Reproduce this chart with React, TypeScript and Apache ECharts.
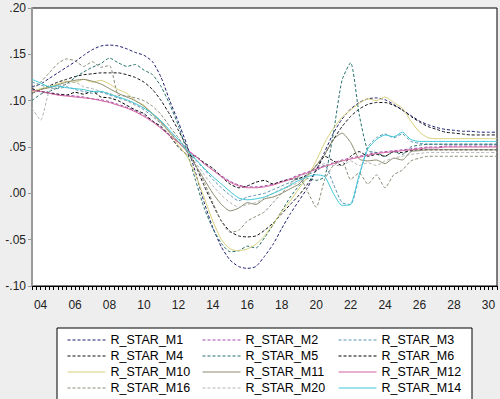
import React, { useEffect, useRef } from "react";
import * as echarts from "echarts";

// Half-yearly observation dates, 2004.0 .. 2031.0
const years: number[] = Array.from({ length: 55 }, (_, i) => 2004 + i * 0.5);

const R_STAR_M1 = [
  0.115, 0.118, 0.124, 0.13, 0.136, 0.142, 0.149, 0.155, 0.159, 0.16,
  0.159, 0.156, 0.152, 0.149, 0.142, 0.125, 0.1, 0.077, 0.052, 0.022,
  -0.01, -0.037, -0.058, -0.072, -0.079, -0.081, -0.079, -0.068, -0.055, -0.038,
  -0.022, -0.008, 0.006, 0.025, 0.045, 0.065, 0.08, 0.091, 0.098, 0.102,
  0.103, 0.101, 0.096, 0.09, 0.084, 0.078, 0.074, 0.071, 0.069, 0.068,
  0.067, 0.067, 0.066, 0.066, 0.066,
];
const R_STAR_M2 = [
  0.112, 0.11, 0.109, 0.107, 0.106, 0.105, 0.104, 0.102, 0.101, 0.099,
  0.096, 0.093, 0.089, 0.084, 0.078, 0.071, 0.063, 0.055, 0.047, 0.04,
  0.032, 0.025, 0.019, 0.013, 0.009, 0.007, 0.007, 0.008, 0.01, 0.013,
  0.016, 0.02, 0.023, 0.027, 0.03, 0.033, 0.036, 0.038, 0.04, 0.042,
  0.044, 0.045, 0.046, 0.047, 0.048, 0.049, 0.05, 0.05, 0.051, 0.051,
  0.051, 0.051, 0.051, 0.051, 0.051,
];
const R_STAR_M3 = [
  0.12, 0.117, 0.114, 0.113, 0.115, 0.112, 0.11, 0.108, 0.109, 0.106,
  0.103, 0.1, 0.096, 0.09, 0.083, 0.075, 0.066, 0.056, 0.046, 0.036,
  0.026, 0.015, 0.006, -0.002, -0.008, -0.004, -0.002, 0.0, 0.004, 0.008,
  0.012, 0.016, 0.02, 0.024, 0.03, 0.01, -0.01, -0.012, 0.018, 0.05,
  0.06, 0.064, 0.06, 0.064, 0.056, 0.054, 0.053, 0.053, 0.053, 0.053,
  0.053, 0.053, 0.053, 0.053, 0.053,
];
const R_STAR_M4 = [
  0.108, 0.112, 0.116, 0.12, 0.123, 0.126, 0.128, 0.129, 0.13, 0.13,
  0.13, 0.128, 0.125, 0.12, 0.112, 0.1, 0.085, 0.068, 0.05, 0.03,
  0.008, -0.012, -0.03, -0.041, -0.046, -0.047, -0.046, -0.04, -0.032, -0.022,
  -0.012, -0.002, 0.01, 0.025, 0.042, 0.058, 0.072, 0.083, 0.091, 0.096,
  0.098, 0.098, 0.095, 0.09, 0.083, 0.077, 0.072, 0.069, 0.066, 0.065,
  0.064, 0.063, 0.063, 0.063, 0.063,
];
const R_STAR_M5 = [
  0.1, 0.107, 0.11, 0.114, 0.118, 0.125, 0.131, 0.136, 0.14, 0.146,
  0.141, 0.137, 0.139, 0.133, 0.128, 0.115, 0.096, 0.073, 0.045, 0.014,
  -0.016, -0.038, -0.054, -0.063, -0.062, -0.057, -0.059, -0.048, -0.034, -0.019,
  -0.004, 0.008, 0.016, 0.014, 0.018, 0.065, 0.122, 0.141, 0.085, 0.046,
  0.044, 0.04, 0.045, 0.042, 0.05, 0.052, 0.053, 0.053, 0.053, 0.053,
  0.053, 0.053, 0.053, 0.053, 0.053,
];
const R_STAR_M6 = [
  0.113, 0.11, 0.108, 0.107, 0.106, 0.109, 0.107, 0.11, 0.104, 0.103,
  0.1, 0.095, 0.09, 0.086, 0.078, 0.072, 0.062, 0.05, 0.042, 0.04,
  0.033, 0.027, 0.018, 0.01, 0.006, 0.008, 0.012, 0.014, 0.01, 0.013,
  0.015, 0.016, 0.02, 0.03, 0.04, 0.035, 0.03, 0.04, 0.045, 0.04,
  0.042, 0.04, 0.045, 0.044, 0.046, 0.047, 0.047, 0.047, 0.047, 0.047,
  0.047, 0.047, 0.047, 0.047, 0.047,
];
const R_STAR_M10 = [
  0.11, 0.113, 0.115, 0.118, 0.121, 0.12, 0.123, 0.12, 0.122, 0.118,
  0.112, 0.108, 0.1, 0.095, 0.085, 0.076, 0.065, 0.052, 0.04, 0.02,
  -0.005, -0.03, -0.05, -0.06, -0.062, -0.06, -0.055, -0.046, -0.033, -0.02,
  -0.008, 0.005, 0.018, 0.035, 0.055, 0.07, 0.082, 0.09, 0.097, 0.102,
  0.1, 0.104, 0.098, 0.092, 0.078, 0.066, 0.06, 0.059, 0.059, 0.059,
  0.059, 0.059, 0.059, 0.059, 0.059,
];
const R_STAR_M11 = [
  0.108, 0.112, 0.114, 0.117, 0.12, 0.122, 0.123, 0.121, 0.118, 0.113,
  0.108, 0.104, 0.1, 0.094, 0.086, 0.077, 0.066, 0.055, 0.045, 0.03,
  0.015, 0.0, -0.012, -0.019, -0.016, -0.01, -0.012, -0.006, -0.004, 0.0,
  0.005, 0.01, 0.02, 0.03, 0.042, 0.058, 0.065, 0.055, 0.037, 0.035,
  0.036, 0.032, 0.038, 0.036, 0.045, 0.046, 0.047, 0.047, 0.047, 0.047,
  0.047, 0.047, 0.047, 0.047, 0.047,
];
const R_STAR_M12 = [
  0.111, 0.11, 0.108, 0.106, 0.105, 0.104, 0.103, 0.102, 0.1, 0.098,
  0.095, 0.092, 0.088, 0.083, 0.077, 0.07, 0.062, 0.055, 0.047, 0.04,
  0.032, 0.025, 0.018, 0.012, 0.008, 0.006, 0.006, 0.007, 0.009, 0.012,
  0.015, 0.019, 0.022, 0.026, 0.029, 0.032, 0.035, 0.037, 0.039, 0.041,
  0.043, 0.044, 0.045, 0.046, 0.047, 0.048, 0.049, 0.049, 0.05, 0.05,
  0.05, 0.05, 0.05, 0.05, 0.05,
];
const R_STAR_M16 = [
  0.112, 0.12, 0.13, 0.14, 0.145, 0.143, 0.137, 0.142, 0.136, 0.138,
  0.106, 0.105, 0.103, 0.1, 0.094, 0.085, 0.072, 0.06, 0.046, 0.03,
  0.012, -0.01, -0.03, -0.042, -0.04, -0.03, -0.025, -0.02, -0.01, 0.0,
  0.01, 0.018, 0.002, -0.015, 0.015, 0.03, 0.035, 0.015, 0.022, 0.01,
  0.02, 0.006, 0.02, 0.025, 0.035, 0.038, 0.04, 0.04, 0.04, 0.04,
  0.04, 0.04, 0.04, 0.04, 0.04,
];
const R_STAR_M20 = [
  0.092, 0.079, 0.11, 0.115, 0.118, 0.12, 0.115, 0.113, 0.11, 0.108,
  0.104, 0.1, 0.095, 0.092, 0.085, 0.076, 0.066, 0.056, 0.046, 0.033,
  0.02, 0.008, -0.002, -0.01, -0.015, -0.012, -0.01, -0.005, 0.0, 0.005,
  0.008, 0.012, 0.02, 0.028, 0.032, 0.03, 0.03, 0.035, 0.03, 0.033,
  0.03, 0.035, 0.038, 0.04, 0.042, 0.043, 0.044, 0.044, 0.044, 0.044,
  0.044, 0.044, 0.044, 0.044, 0.044,
];
const R_STAR_M14 = [
  0.123, 0.119, 0.115, 0.116, 0.114, 0.113, 0.112, 0.11, 0.11, 0.107,
  0.104, 0.101, 0.097, 0.092, 0.086, 0.078, 0.068, 0.058, 0.047, 0.037,
  0.027, 0.018, 0.01, 0.002, -0.005, -0.007, -0.006, -0.004, 0.0, 0.004,
  0.009, 0.014, 0.018, 0.02, 0.018, 0.0, -0.013, -0.012, 0.02, 0.048,
  0.058, 0.063, 0.061, 0.066, 0.058, 0.056, 0.056, 0.056, 0.056, 0.056,
  0.056, 0.056, 0.056, 0.056, 0.056,
];

const seriesList = [
  { name: "R_STAR_M1", values: R_STAR_M1 },
  { name: "R_STAR_M2", values: R_STAR_M2 },
  { name: "R_STAR_M3", values: R_STAR_M3 },
  { name: "R_STAR_M4", values: R_STAR_M4 },
  { name: "R_STAR_M5", values: R_STAR_M5 },
  { name: "R_STAR_M6", values: R_STAR_M6 },
  { name: "R_STAR_M10", values: R_STAR_M10 },
  { name: "R_STAR_M11", values: R_STAR_M11 },
  { name: "R_STAR_M12", values: R_STAR_M12 },
  { name: "R_STAR_M16", values: R_STAR_M16 },
  { name: "R_STAR_M20", values: R_STAR_M20 },
  { name: "R_STAR_M14", values: R_STAR_M14 },
];

// line look per series: colour and whether it is drawn dotted
const lineLook: Record<string, { color: string; dotted: boolean }> = {
  R_STAR_M1: { color: "#1c1c70", dotted: true },
  R_STAR_M2: { color: "#a048b0", dotted: true },
  R_STAR_M3: { color: "#5a94b4", dotted: true },
  R_STAR_M4: { color: "#101018", dotted: true },
  R_STAR_M5: { color: "#25706a", dotted: true },
  R_STAR_M6: { color: "#000000", dotted: true },
  R_STAR_M10: { color: "#d8d07a", dotted: false },
  R_STAR_M11: { color: "#8c8a6e", dotted: false },
  R_STAR_M12: { color: "#d2609e", dotted: false },
  R_STAR_M16: { color: "#8a8a78", dotted: true },
  R_STAR_M20: { color: "#b4b4b4", dotted: true },
  R_STAR_M14: { color: "#3cc8d8", dotted: false },
};

const legendColumns = [
  ["R_STAR_M1", "R_STAR_M4", "R_STAR_M10", "R_STAR_M16"],
  ["R_STAR_M2", "R_STAR_M5", "R_STAR_M11", "R_STAR_M20"],
  ["R_STAR_M3", "R_STAR_M6", "R_STAR_M12", "R_STAR_M14"],
];
const legendLeft = [67, 202, 338];

const FONT = 'Arial, "Liberation Sans", sans-serif';

function yearLabel(v: number): string {
  const y = v - 0.5;
  if (Number.isInteger(y) && y % 2 === 0) return String(y % 100).padStart(2, "0");
  return "";
}

function rateLabel(v: number): string {
  return v.toFixed(2).replace("0.", ".");
}

export default function App() {
  const ref = useRef<HTMLDivElement>(null);

  useEffect(() => {
    if (!ref.current) return;
    const chart = echarts.init(ref.current, undefined, { renderer: "svg" });
    chart.setOption({
      animation: false,
      backgroundColor: "#eeeeee",
      grid: {
        left: 32,
        right: 2,
        top: 8,
        bottom: 113,
        show: true,
        backgroundColor: "#ffffff",
        borderColor: "#000000",
        borderWidth: 1,
      },
      xAxis: {
        type: "value",
        min: 2004,
        max: 2031,
        interval: 0.25,
        axisLine: { show: true, onZero: false, lineStyle: { color: "#000000", width: 1 } },
        axisTick: { show: true, length: 4, lineStyle: { color: "#000000" } },
        axisLabel: {
          margin: 13,
          color: "#222222",
          fontSize: 12,
          fontFamily: FONT,
          formatter: yearLabel,
        },
        splitLine: { show: false },
      },
      yAxis: {
        type: "value",
        min: -0.1,
        max: 0.2,
        interval: 0.05,
        axisLine: { show: true, lineStyle: { color: "#9a9a9a", width: 2 } },
        axisTick: { show: true, length: 4, lineStyle: { color: "#9a9a9a" } },
        axisLabel: {
          margin: 6,
          color: "#222222",
          fontSize: 12,
          fontFamily: FONT,
          formatter: rateLabel,
        },
        splitLine: { show: false },
      },
      graphic: [
        {
          type: "rect",
          z: -1,
          shape: { x: 57, y: 328, width: 415, height: 90 },
          style: { fill: "#ffffff", stroke: "#000000", lineWidth: 1 },
        },
      ],
      legend: legendColumns.map((names, k) => ({
        orient: "vertical",
        left: legendLeft[k],
        top: 333,
        height: 66,
        padding: 0,
        itemWidth: 38,
        itemHeight: 10,
        itemGap: 2,
        selectedMode: false,
        itemStyle: { opacity: 0 },
        lineStyle: { width: 1 },
        data: names,
        textStyle: { fontSize: 12.5, color: "#000000", fontFamily: FONT, lineHeight: 14 },
      })),
      series: seriesList.map((s) => {
        const look = lineLook[s.name];
        return {
          type: "line",
          name: s.name,
          data: years.map((t, i) => [t, s.values[i]]),
          symbol: "none",
          smooth: 0.2,
          lineStyle: { color: look.color, width: 1, type: look.dotted ? [3, 2] : "solid" },
          itemStyle: { color: look.color },
        };
      }),
    });
    return () => chart.dispose();
  }, []);

  return (
    <div
      ref={ref}
      style={{ position: "absolute", left: 0, top: 0, width: 500, height: 399 }}
    />
  );
}
